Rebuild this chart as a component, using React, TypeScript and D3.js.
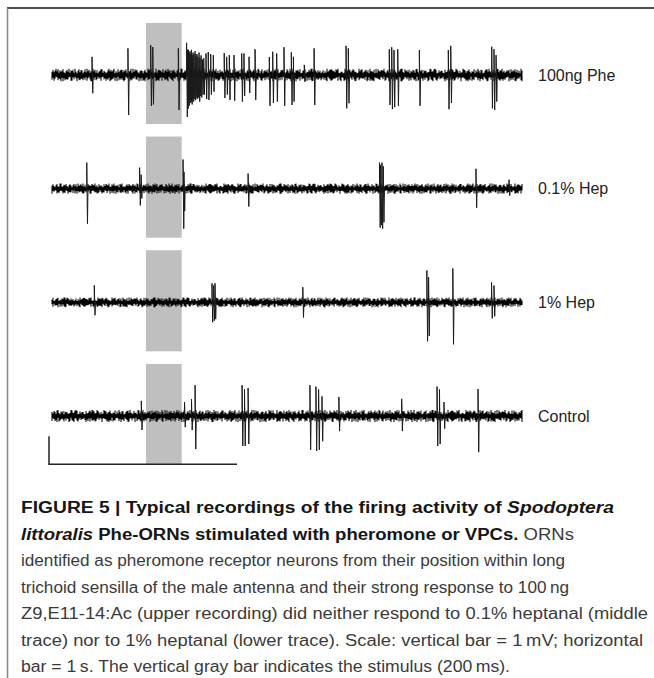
import React from "react";
import * as d3 from "d3";

// ---------- data ----------
const traceLabels = ["100ng Phe", "0.1% Hep", "1% Hep", "Control"];
const DURATION = 2.5; // seconds shown per recording
const stimulus = [0.5, 0.69]; // s (200 ms)
const scaleBarTime = 1; // s
const scaleBarVolt = 1; // mV

// spikes: [time (s), upward peak (mV), downward peak (mV)]
const spikesPhe = [
  [0.213, 0.65, 0.65], [0.404, 0.95, 1.43], [0.525, 1.07, 1.1], [0.536, 1.0, 1.05],
  [0.672, 0.95, 1.25], [0.716, 1.15, 1.5], [0.721, 0.9, 1.2], [0.726, 0.9, 1.1],
  [0.73, 0.8, 1.0], [0.734, 0.85, 1.0], [0.738, 0.75, 0.95], [0.742, 0.9, 1.05],
  [0.746, 0.7, 0.9], [0.75, 0.8, 0.95], [0.755, 0.75, 0.85], [0.761, 0.85, 0.9],
  [0.766, 0.7, 0.8], [0.771, 0.75, 0.85], [0.776, 0.65, 0.8], [0.782, 0.8, 0.95],
  [0.787, 0.6, 0.75], [0.793, 0.7, 0.8], [0.8, 0.55, 0.7], [0.807, 0.6, 0.7],
  [0.819, 0.77, 0.86], [0.831, 0.82, 0.89], [0.844, 0.75, 0.7], [0.858, 0.71, 0.6],
  [0.916, 0.78, 0.82], [0.929, 0.65, 0.7], [0.943, 0.71, 0.89], [0.968, 0.71, 0.92],
  [1.009, 0.77, 0.95], [1.021, 0.77, 0.75], [1.048, 0.65, 0.64], [1.08, 0.92, 0.89],
  [1.156, 0.64, 1.1], [1.174, 0.83, 1.0], [1.195, 0.77, 0.95], [1.234, 0.99, 1.1],
  [1.273, 0.81, 1.07], [1.284, 0.65, 0.95], [1.342, 0.36, 0.24], [1.394, 0.95, 1.07],
  [1.564, 1.04, 1.19], [1.576, 0.95, 1.01], [1.794, 0.92, 1.07], [1.807, 0.99, 1.22],
  [1.819, 0.89, 1.15], [1.839, 0.92, 1.1], [1.954, 0.89, 1.1], [2.108, 0.89, 1.22],
  [2.121, 1.04, 1.0], [2.339, 1.01, 1.19], [2.351, 0.92, 1.25], [2.362, 0.71, 0.95],
];
const spikesHep01 = [
  [0.185, 0.93, 1.25], [0.466, 0.75, 0.6], [0.474, 0.5, 0.35], [0.697, 1.04, 1.43],
  [0.702, 0.6, 0.8], [1.043, 0.54, 0.64], [1.742, 0.93, 1.39], [1.748, 0.85, 1.3],
  [1.755, 0.93, 1.43], [1.762, 0.8, 1.2], [2.255, 0.71, 0.68], [2.431, 0.32, 0.25],
];
const spikesHep1 = [
  [0.225, 0.61, 0.46], [0.851, 0.68, 0.71], [0.86, 0.6, 0.65], [0.867, 0.68, 0.6],
  [1.334, 0.54, 0.54], [1.994, 1.14, 1.39], [2.003, 0.9, 1.2], [2.132, 1.21, 1.5],
  [2.338, 0.71, 0.57], [2.351, 0.6, 0.5],
];
const spikesControl = [
  [0.475, 0.54, 0.5], [0.705, 0.5, 0.4], [0.742, 0.6, 0.5], [0.761, 1.1, 1.18],
  [1.011, 1.1, 1.07], [1.024, 0.95, 1.07], [1.043, 1.0, 1.0], [1.372, 1.1, 1.21],
  [1.404, 1.05, 1.25], [1.418, 0.95, 1.21], [1.436, 0.7, 0.9], [1.526, 0.68, 0.54],
  [1.86, 0.61, 0.54], [2.048, 1.05, 1.07], [2.061, 0.95, 1.0], [2.085, 0.5, 0.45],
  [2.266, 0.96, 1.29],
];
const traceSpikes = [spikesPhe, spikesHep01, spikesHep1, spikesControl];

// baseline noise levels (digits 0-9), hand-typed texture samples
const noiseUpDigits = `3725948163 5820473916 4719305826 6038294715 2947160358 8153026947 3690418257 7264810359
1938572046 5047219683 8302915764 2815739460 6473058219 9126483057 4058271936 7391602845 3864915072 5207386491
1749253608 6912047385 2583619704 8046371925 3175948026 6730285194 4921657380 1568032749 9387416250 2604193578
7452869103 3019574862 5862301947 8135726094 4270918536 6593047218 1846205379 9318462705 2751893064 7064512398
3489701625 5107236849 8623974051 2976145830 4380629517 6015783942 1734098265 9251364708 3648271509 5092816473`;
const noiseDownDigits = `6284017359 2937465108 8150392674 4726183059 9361750428 1053846297 5418290736 3796024185
7240561938 2869317540 4502976831 8137469025 6924018573 1385702946 5071839264 3697251408 9213648750 4856027319
2738194605 7460583912 1592846037 8327150694 3945608271 6018273459 2673945180 5349082716 9801536427 4162790358
7534218069 1287465903 6059831742 3426097185 8791324560 2508613974 5183746029 9640251837 1375908642 4826139705
7912684053 3059472816 6487305129 2134869570 8561027394 4703598216 1290743685 5846210937 3618952407 9027364581`;
const noiseGain = [1.25, 1.05, 1.0, 1.2];
const noiseOffset = [0, 121, 247, 359];

const captionLines = [
  [{ t: "FIGURE 5 | Typical recordings of the firing activity of ", b: true }, { t: "Spodoptera", b: true, i: true }],
  [{ t: "littoralis", b: true, i: true }, { t: " Phe-ORNs stimulated with pheromone or VPCs.", b: true }, { t: " ORNs" }],
  [{ t: "identified as pheromone receptor neurons from their position within long" }],
  [{ t: "trichoid sensilla of the male antenna and their strong response to 100\u2009ng" }],
  [{ t: "Z9,E11-14:Ac (upper recording) did neither respond to 0.1% heptanal (middle" }],
  [{ t: "trace) nor to 1% heptanal (lower trace). Scale: vertical bar = 1\u2009mV; horizontal" }],
  [{ t: "bar = 1\u2009s. The vertical gray bar indicates the stimulus (200\u2009ms)." }],
];
const captionRight = [614, 574, 565, 569, 648, 643, 510];

// ---------- layout ----------
const W = 654;
const H = 678;
const FONT = "'Liberation Sans', Arial, Helvetica, sans-serif";

const x = d3.scaleLinear().domain([0, DURATION]).range([52, 522]);
const rowY = d3.scaleLinear().domain([0, traceLabels.length - 1]).range([75, 416]);
const PX_PER_MV = 28;
const yFor = (row) =>
  d3.scaleLinear().domain([-1, 1]).range([rowY(row) + PX_PER_MV, rowY(row) - PX_PER_MV]);

const upD = noiseUpDigits.replace(/\s/g, "");
const dnD = noiseDownDigits.replace(/\s/g, "");

function noisePath(row) {
  const y = yFor(row);
  const n = Math.round(x(DURATION) - x(0));
  const p = d3.path();
  for (let i = 0; i <= n; i++) {
    const t = (i / n) * DURATION;
    const u = +upD[(noiseOffset[row] + i) % upD.length];
    const d = +dnD[(noiseOffset[row] + i) % dnD.length];
    const g = noiseGain[row];
    const xx = x(t);
    p.moveTo(xx, y((0.05 + u * 0.014) * g));
    p.lineTo(xx, y(-(0.05 + d * 0.014) * g));
  }
  return p.toString();
}

function spikePath(row) {
  const y = yFor(row);
  const p = d3.path();
  for (const [t, up, down] of traceSpikes[row]) {
    const xx = x(t);
    p.moveTo(xx, y(0));
    p.lineTo(xx, y(up));
    p.lineTo(xx + 0.7, y(-down));
    p.lineTo(xx + 1.2, y(0));
  }
  return p.toString();
}

export default function App() {
  const y4 = yFor(traceLabels.length - 1);
  const barY = -1.72; // mV on last trace's scale
  const barX0 = -0.016;
  return (
    <svg
      width={W}
      height={H}
      viewBox={`0 0 ${W} ${H}`}
      style={{ position: "fixed", left: 0, top: 0, background: "#fff" }}
    >
      <rect x={0} y={0} width={W} height={H} fill="#fff" />
      {/* frame */}
      <line x1={7} y1={8} x2={W} y2={8} stroke="#111" strokeWidth={1.6} />
      <line x1={7.5} y1={8} x2={7.5} y2={H} stroke="#8a8a8a" strokeWidth={1.6} />

      {/* stimulus bars */}
      {traceLabels.map((_, r) => {
        const y = yFor(r);
        return (
          <rect
            key={"s" + r}
            x={x(stimulus[0])}
            width={x(stimulus[1]) - x(stimulus[0])}
            y={y(1.86)}
            height={y(-1.75) - y(1.86)}
            fill="#bfbfbf"
          />
        );
      })}

      {/* recordings */}
      {traceLabels.map((lab, r) => (
        <g key={"t" + r}>
          <path d={noisePath(r)} stroke="#000" strokeWidth={1.05} fill="none" />
          <path d={spikePath(r)} stroke="#1a1a1a" strokeWidth={1} fill="none" />
          <text
            x={538}
            y={rowY(r)}
            dy="0.36em"
            fontFamily={FONT}
            fontSize={16}
            fill="#222"
          >
            {lab}
          </text>
        </g>
      ))}

      {/* scale bars */}
      <path
        d={`M${x(barX0)},${y4(barY + scaleBarVolt)}V${y4(barY)}H${x(barX0 + scaleBarTime)}`}
        stroke="#222"
        strokeWidth={1.5}
        fill="none"
      />

      {/* caption */}
      {captionLines.map((segs, i) => (
        <text
          key={"c" + i}
          x={21}
          y={513 + i * 26.5}
          fontFamily={FONT}
          fontSize={16}
          textLength={captionRight[i] - 21}
          lengthAdjust="spacingAndGlyphs"
        >
          {segs.map((s, j) => (
            <tspan
              key={j}
              fontWeight={s.b ? "bold" : "normal"}
              fontStyle={s.i ? "italic" : "normal"}
              fill={s.b ? "#161616" : "#3a3a3a"}
            >
              {s.t}
            </tspan>
          ))}
        </text>
      ))}
    </svg>
  );
}
